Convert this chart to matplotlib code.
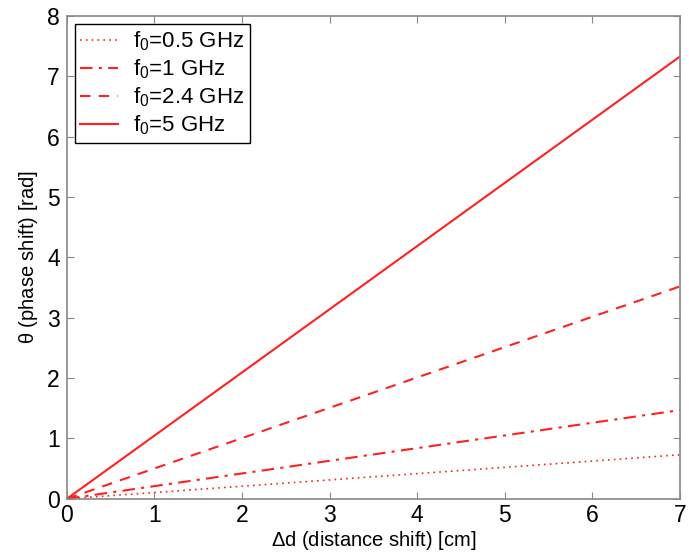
import matplotlib
matplotlib.use('Agg')
import matplotlib.pyplot as plt
import numpy as np

plt.rcParams['font.family'] = ['Liberation Sans', 'DejaVu Sans']
plt.rcParams['mathtext.fontset'] = 'custom'
plt.rcParams['mathtext.rm'] = 'Liberation Sans'
plt.rcParams['mathtext.it'] = 'Liberation Sans'

# endpoints: theta at delta d = 0 and 7 cm
dist = [0, 7]
theta_05 = [0, 0.73]
theta_1 = [0, 1.47]
theta_24 = [0, 3.52]
theta_5 = [0, 7.33]
labels = [r'f$_0$=0.5 GHz', r'f$_0$=1 GHz', r'f$_0$=2.4 GHz', r'f$_0$=5 GHz']

fig = plt.figure(figsize=(6.89, 5.53), dpi=100)
ax = fig.add_axes([0.097, 0.098, 0.890, 0.873])

red = '#ff2020'
ax.plot(dist, theta_05, color=red, ls=(0, (1, 2.5)), lw=1.2, label=labels[0])
ax.plot(dist, theta_1, color=red, ls=(0, (6, 3, 1.5, 3)), lw=1.5, label=labels[1])
ax.plot(dist, theta_24, color=red, ls=(0, (5, 4)), lw=1.5, label=labels[2])
ax.plot(dist, theta_5, color=red, ls='-', lw=1.5, label=labels[3])

ax.set_xlim(0, 7)
ax.set_ylim(0, 8)
ax.set_xticks(range(0, 8))
ax.set_yticks(range(0, 9))

for s in ax.spines.values():
    s.set_color('#888888')
    s.set_linewidth(1.2)
ax.tick_params(direction='in', top=True, right=True, length=5, color='#888888',
               labelsize=16.5)
ax.tick_params(axis='x', pad=4)
ax.tick_params(axis='y', pad=5)

ax.set_xlabel(r'$\Delta$d (distance shift) [cm]', fontsize=14.5, labelpad=1)
ax.set_ylabel(r'$\theta$ (phase shift) [rad]', fontsize=14.5, labelpad=5)

leg = ax.legend(loc='upper left', fontsize=16, fancybox=False, framealpha=1,
                edgecolor='black', borderaxespad=0.35, handlelength=1.7,
                handletextpad=0.7, labelspacing=0.2, borderpad=0.25)
leg.get_frame().set_linewidth(1.0)

fig.savefig('out.png', dpi=100)
